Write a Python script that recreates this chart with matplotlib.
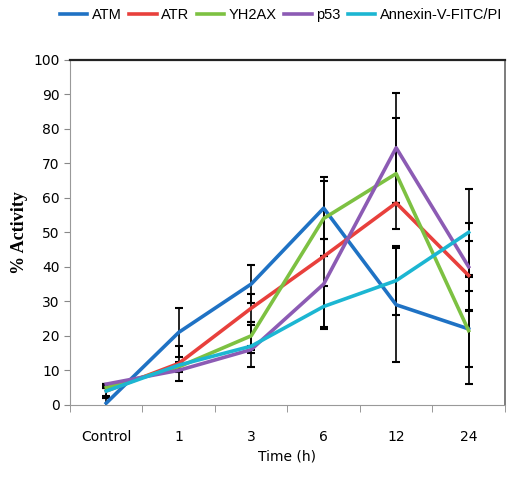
import numpy as np
import matplotlib
matplotlib.use('Agg')
from matplotlib import pyplot as plt

categories = ['Control', '1', '3', '6', '12', '24']

atm = [0.5, 21, 35, 57, 29, 22]
atr = [4, 12, 28, 43, 58.5, 37.5]
yh2ax = [5, 11, 20, 54, 67, 21.5]
p53 = [6, 10, 16, 35, 74.5, 40]
annexin = [4, 11.5, 17, 28.5, 36, 50]

atm_err = [1.5, 7, 5.5, 9, 16.5, 11]
atr_err = [1.5, 5, 4, 0, 0, 10]
yh2ax_err = [0, 1.5, 4, 11, 16, 15.5]
p53_err = [0, 0, 1, 13, 16, 12.7]
annexin_err = [2, 0, 6, 6, 10, 12.5]

names = ['ATM', 'ATR', 'YH2AX', 'p53', 'Annexin-V-FITC/PI']
series = [atm, atr, yh2ax, p53, annexin]
errors = [atm_err, atr_err, yh2ax_err, p53_err, annexin_err]
colors = ['#1f72c4', '#e8403c', '#7dc142', '#8c5bb4', '#1cb6d2']

fig = plt.figure(figsize=(5.11, 4.86), dpi=100)
ax = fig.add_axes([0.137, 0.167, 0.851, 0.710])

x = np.arange(len(categories))
for vals, errs, c, n in zip(series, errors, colors, names):
    ax.errorbar(x, vals, yerr=errs, fmt='none', ecolor='black',
                elinewidth=1.2, capsize=3, capthick=1.5, zorder=1)
    ax.plot(x, vals, color=c, lw=2.6, label=n, zorder=2)

ax.set_xlim(-0.5, len(categories) - 0.5)
ax.set_ylim(0, 100)
ax.set_yticks(range(0, 101, 10))
ax.set_xticks(x)
ax.set_xticklabels(categories)
ax.set_xticks(np.arange(-0.5, len(categories), 1), minor=True)
ax.tick_params(axis='x', which='major', length=0, pad=18, labelsize=10)
ax.tick_params(axis='x', which='minor', length=5, color='#888888', direction='out')
ax.tick_params(axis='y', length=4, color='#888888', labelsize=10)

ax.spines['left'].set_color('#999999')
ax.spines['bottom'].set_color('#999999')
ax.spines['top'].set_color('#222222')
ax.spines['top'].set_linewidth(1.6)
ax.spines['right'].set_color('#666666')
ax.spines['right'].set_linewidth(1.2)

ax.set_ylabel('% Activity', family='Liberation Serif', fontweight='bold', fontsize=13)
ax.set_xlabel('Time (h)', fontsize=10, labelpad=4)

ax.legend(loc='center', bbox_to_anchor=(0.485, 1.13), ncol=5, frameon=False,
          handlelength=1.9, handletextpad=0.3, columnspacing=0.5,
          prop={'family': 'Liberation Sans', 'size': 10.5},
          borderaxespad=0)

plt.savefig('out.png', dpi=100)
